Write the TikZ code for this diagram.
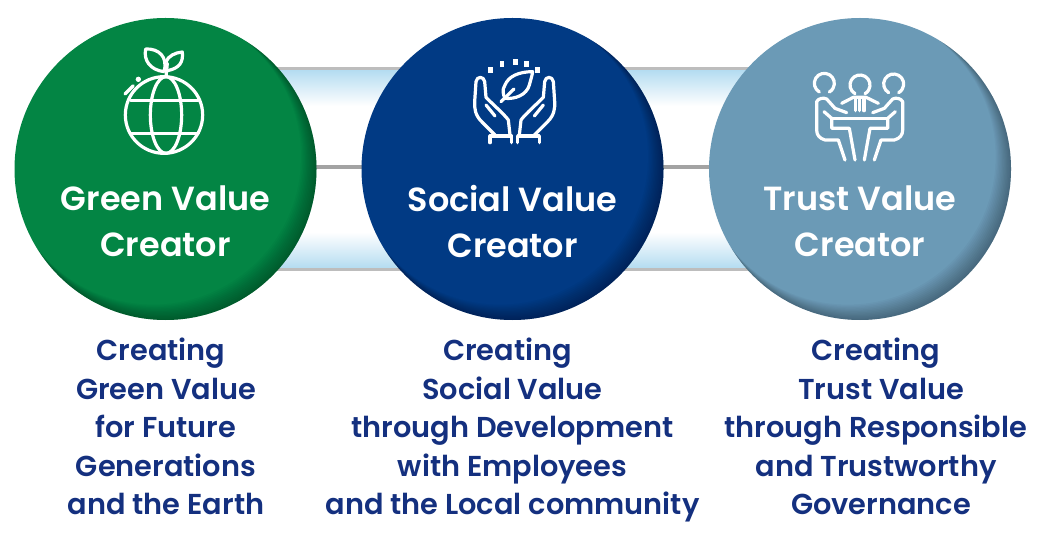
\documentclass[tikz,border=0pt]{standalone}
\usepackage{fontspec}
\setmainfont{Poppins}[UprightFont=* SemiBold]
\definecolor{gv}{HTML}{038544}
\definecolor{sv}{HTML}{013A84}
\definecolor{tv}{HTML}{6B9AB6}
\definecolor{bandblue}{HTML}{B4DCF1}
\definecolor{bandgray}{HTML}{BDBDBD}
\definecolor{midgray}{HTML}{A3A3A3}
\definecolor{txtblue}{HTML}{14307F}
\newcommand{\discrim}[1]{%
  \begin{scope}
    \clip (#1) circle (151);
    \foreach \k in {0,1,...,11}{
      \pgfmathsetmacro{\dk}{(1+1.5*\k)/1.414}
      \pgfmathsetmacro{\rk}{151-0.17*(1+1.5*\k)}
      \fill[black,opacity=0.028,even odd rule] (#1) circle (153)
        ([shift={(-\dk,-\dk)}]#1) circle (\rk);
    }
  \end{scope}}
\tikzset{
  disc/.style={circle,minimum size=226.5pt,inner sep=0pt,text=white,align=center,
    font=\fontsize{25.1pt}{34.5pt}\selectfont},
  caption/.style={anchor=north,text=txtblue,align=center,inner sep=0pt,
    font=\fontsize{21.6pt}{28.9pt}\selectfont},
  icon/.style={draw=white,line width=2.4pt,line cap=round,line join=round},
  crop/.style={x=0.25pt,y=-0.25pt},
}
\begin{document}
\begin{tikzpicture}[x=0.75pt,y=-0.75pt]
\useasboundingbox (0,0) rectangle (1044,538);
% bands
\foreach \xa/\xb in {275/405,622/752}{
  \fill[white] (\xa,70) rectangle (\xb,268);
  \shade[top color=bandblue,bottom color=white] (\xa,70) rectangle (\xb,106);
  \shade[top color=white,bottom color=bandblue] (\xa,232) rectangle (\xb,268);
  \fill[bandgray] (\xa,67) rectangle (\xb,70);
  \fill[bandgray] (\xa,268) rectangle (\xb,271);
}
\coordinate (gc) at (165.5,167);
\coordinate (sc) at (512.5,167);
\coordinate (tc) at (860,167);
\draw[midgray,line width=2.4pt] (gc) -- (sc);
\draw[midgray,line width=2.4pt] (sc) -- (tc);
% discs
\coordinate (gd) at (165.5,169);
\coordinate (sd) at (512.5,169);
\coordinate (td) at (860,169);
\fill[gv] (gd) circle (151); \discrim{gd}
\fill[sv] (sd) circle (151); \discrim{sd}
\fill[tv] (td) circle (151); \discrim{td}
\node[disc] (green) at (165.5,221.5) {Green Value\\Creator};
\node[disc] (social) at (512.5,221.5) {Social Value\\Creator};
\node[disc] (trust) at (860,221.5) {Trust Value\\Creator};
% captions
\node[caption] (cap1) at (166,338) {Creating\hspace*{7.5pt}\\Green Value\\for Future\\Generations\\and the Earth};
\node[caption] (cap2) at (512.5,338) {Creating\hspace*{7.5pt}\\Social Value\\through Development\hspace*{7.5pt}\\with Employees\\and the Local community};
\node[caption] (cap3) at (876,338) {Creating\\\hspace*{7.5pt}Trust Value\\through Responsible\\and Trustworthy\\\hspace*{7.5pt}Governance};
% globe icon
\begin{scope}[shift={(90,30)},crop]
  \draw[icon] (222,255) circle [x radius=116,y radius=115];
  \draw[icon] (228,255) circle [x radius=47,y radius=115];
  \draw[icon] (122,212) -- (325,212);
  \draw[icon] (122,310) -- (325,310);
  \draw[icon] (228,140) -- (232,100);
  \draw[icon] (222,125) .. controls (180,120) and (160,90) .. (167,57) .. controls (205,55) and (235,80) .. (222,125);
  \draw[icon] (232,122) .. controls (270,115) and (280,95) .. (277,66) .. controls (255,68) and (235,78) .. (228,95);
  \draw[icon] (105,192) -- (130,167);
  \fill[white] (145,148) circle (8);
\end{scope}
% hands icon
\begin{scope}[shift={(440,40)},crop]
  \foreach \px/\py in {152/90,186/72,226/66,260/72,292/90}
    \fill[white] (\px-7,\py-9) rectangle (\px+7,\py+9);
  \draw[icon] (278,95) .. controls (235,95) and (205,110) .. (195,135) .. controls (185,150) and (190,165) .. (195,175) .. controls (225,178) and (260,165) .. (268,135) .. controls (272,120) and (276,108) .. (278,95) -- cycle;
  \draw[icon] (183,185) -- (222,147);
  \foreach \m/\o in {1/0,-1/448}{
    \begin{scope}[shift={(\o,0)},xscale=\m]
      \draw[icon] (165,285) -- (125,245) .. controls (105,225) and (103,205) .. (104,185) -- (108,125) .. controls (110,108) and (132,108) .. (134,125) -- (138,172) .. controls (150,185) and (195,225) .. (205,240) -- (210,285);
      \draw[icon] (138,195) -- (165,228);
      \draw[icon] (150,308) -- (150,288) -- (215,288) -- (215,308);
    \end{scope}
  }
\end{scope}
% team icon
\begin{scope}[shift={(790,50)},crop]
  \draw[icon] (88,126) arc[start angle=120,end angle=420,radius=30];
  \draw[icon] (195,131) arc[start angle=120,end angle=420,radius=30];
  \draw[icon] (296,128) arc[start angle=120,end angle=420,radius=30];
  \draw[icon] (155,160) -- (190,142) -- (228,142) -- (265,160);
  \draw[icon] (196,148) -- (196,182);
  \draw[icon] (209,148) -- (209,182);
  \draw[icon] (222,148) -- (222,182);
  \draw[icon] (125,205) -- (293,205);
  \foreach \m/\o in {1/0,-1/418}{
    \begin{scope}[shift={(\o,0)},xscale=\m]
      \draw[icon] (165,330) -- (145,270) -- (105,270) .. controls (88,265) and (80,255) .. (80,240) -- (80,155) .. controls (85,145) and (100,142) .. (110,147) -- (135,175) -- (170,188);
      \draw[icon] (102,185) -- (125,205) -- (125,235) -- (178,235) -- (195,330);
    \end{scope}
  }
\end{scope}
\end{tikzpicture}
\end{document}
